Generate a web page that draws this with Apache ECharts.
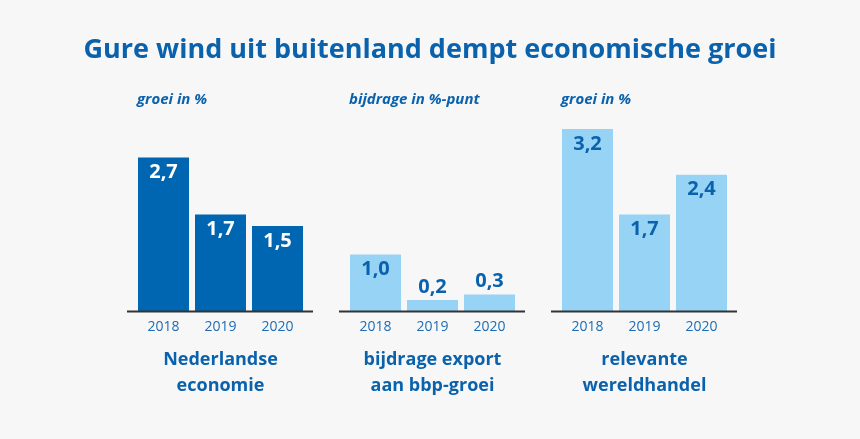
<!DOCTYPE html>
<html>
<head>
<meta charset="utf-8">
<script src="https://cdn.jsdelivr.net/npm/echarts@6/dist/echarts.min.js"></script>
<style>
html,body{margin:0;padding:0;background:#f7f7f7;}
#c{width:860px;height:439px;}
</style>
</head>
<body>
<div id="c"></div>
<script>
const categories = ['2018', '2019', '2020'];
const nederlandseEconomie = [2.7, 1.7, 1.5];
const bijdrageExport = [1.0, 0.2, 0.3];
const wereldhandel = [3.2, 1.7, 2.4];

const mainTitle = 'Gure wind uit buitenland dempt economische groei';
const unitLabels = ['groei in %', 'bijdrage in %-punt', 'groei in %'];
const panelLabels = ['Nederlandse\neconomie', 'bijdrage export\naan bbp-groei', 'relevante\nwereldhandel'];

const DARK = '#0066b1';
const LIGHT = '#97d3f5';
const TEXT = '#0a62ad';
const FONT = '"Open Sans", "Noto Sans", sans-serif';

const gridLefts = [135, 347, 559];
const gridWidth = 171;

const fmt = v => v.toFixed(1).replace('.', ',');

function labelFor(color, pos) {
  return {
    show: true, position: pos, distance: pos === 'top' ? 3 : 5,
    color: color, fontFamily: FONT, fontWeight: 'bold', fontSize: 20,
    formatter: p => fmt(p.value)
  };
}

const grids = gridLefts.map(l => ({ left: l, width: gridWidth, top: 112, bottom: 127.5 }));
const xAxes = gridLefts.map((l, i) => ({
  type: 'category', gridIndex: i, data: categories,
  axisLine: { show: false }, axisTick: { show: false },
  axisLabel: { color: '#1d6cb4', fontFamily: FONT, fontSize: 14, margin: 9 }
}));
const yAxes = gridLefts.map((l, i) => ({
  type: 'value', gridIndex: i, min: 0, max: 3.5, show: false, splitLine: { show: false }
}));

const series = [
  {
    type: 'bar', xAxisIndex: 0, yAxisIndex: 0, barWidth: 51,
    itemStyle: { color: DARK },
    label: labelFor('#ffffff', 'insideTop'),
    data: nederlandseEconomie
  },
  {
    type: 'bar', xAxisIndex: 1, yAxisIndex: 1, barWidth: 51,
    itemStyle: { color: LIGHT },
    label: labelFor(TEXT, 'top'),
    data: bijdrageExport.map(v => v >= 0.5 ? { value: v, label: labelFor(TEXT, 'insideTop') } : { value: v })
  },
  {
    type: 'bar', xAxisIndex: 2, yAxisIndex: 2, barWidth: 51,
    itemStyle: { color: LIGHT },
    label: labelFor(TEXT, 'insideTop'),
    data: wereldhandel
  }
];

const titles = [
  { text: mainTitle, left: 430, top: 37, textAlign: 'center', padding: 0,
    textStyle: { color: TEXT, fontFamily: FONT, fontWeight: 'bold', fontSize: 27 } }
];
const unitLefts = [137, 349, 561];
unitLabels.forEach((t, i) => titles.push({
  text: t, left: unitLefts[i], top: 92, padding: 0,
  textStyle: { color: TEXT, fontFamily: FONT, fontWeight: 'bold', fontStyle: 'italic', fontSize: 15 }
}));
const panelCenters = [220.5, 432.5, 644.5];
panelLabels.forEach((t, i) => titles.push({
  text: t, left: panelCenters[i], top: 347, textAlign: 'center', padding: 0,
  textStyle: { color: TEXT, fontFamily: FONT, fontWeight: 'bold', fontSize: 18, lineHeight: 26, align: 'center' }
}));

const chart = echarts.init(document.getElementById('c'));
chart.setOption({
  backgroundColor: '#f7f7f7',
  animation: false,
  title: titles,
  grid: grids,
  xAxis: xAxes,
  yAxis: yAxes,
  series: series
});

// baseline lines extending a little past the bars
const baseY = chart.convertToPixel({ yAxisIndex: 0 }, 0);
const lines = gridLefts.map(l => ({
  type: 'line',
  shape: { x1: l - 8, y1: baseY, x2: l + gridWidth + 7, y2: baseY },
  style: { stroke: '#333333', lineWidth: 2 },
  z: 10
}));
chart.setOption({ graphic: lines });
</script>
</body>
</html>
